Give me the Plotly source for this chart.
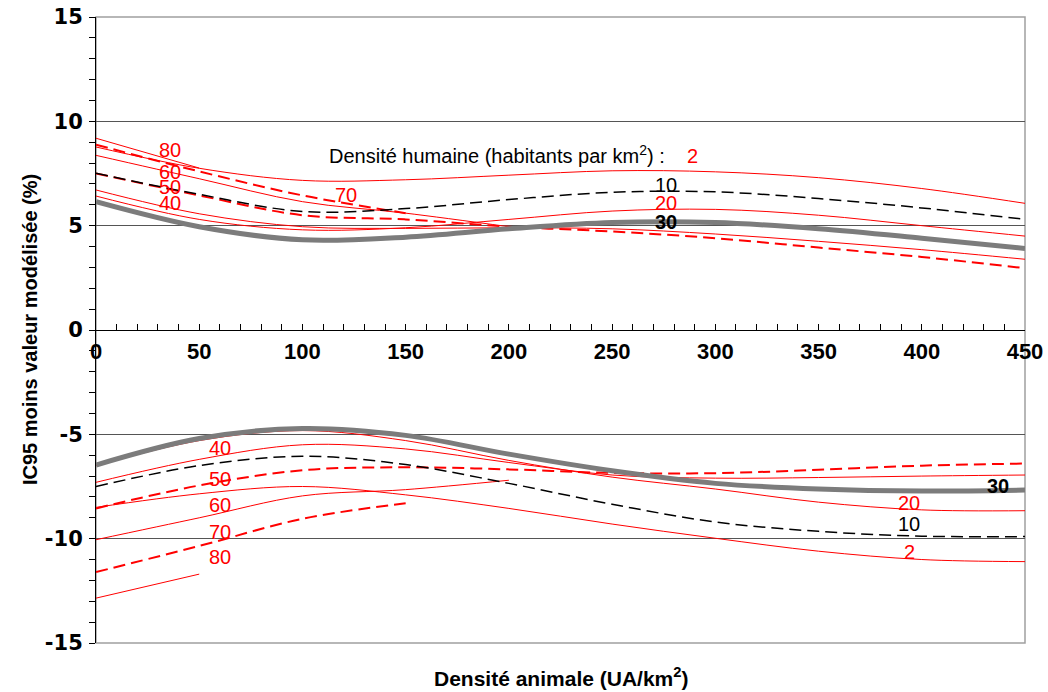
import plotly.graph_objects as go

# ---------------- data ----------------
x_full = [0, 50, 100, 150, 200, 250, 300, 350, 400, 450]
x_to200 = [0, 50, 100, 150, 200]
x_to150 = [0, 50, 100, 150]
x_to50 = [0, 50]

# upper band (IC95 sup - valeur)
top_2 = [8.77, 7.75, 7.17, 7.2, 7.42, 7.63, 7.58, 7.3, 6.78, 6.07]
top_10 = [7.51, 6.5, 5.68, 5.82, 6.25, 6.6, 6.62, 6.3, 5.85, 5.3]
top_20 = [6.42, 5.3, 4.8, 4.9, 5.3, 5.7, 5.78, 5.5, 5.0, 4.5]
top_30 = [6.15, 4.95, 4.32, 4.45, 4.85, 5.15, 5.15, 4.85, 4.4, 3.91]
top_40 = [6.71, 5.57, 4.95, 4.87, 4.9, 4.85, 4.6, 4.25, 3.85, 3.39]
top_50 = [7.5, 6.45, 5.5, 5.3, 4.95, 4.72, 4.4, 3.95, 3.5, 2.96]
top_60 = [8.37, 7.25, 6.15, 5.6, 4.95]
top_70 = [8.88, 7.6, 6.45, 5.6]
top_80 = [9.19, 7.76]

# lower band (IC95 inf - valeur)
bot_2 = [-8.5, -7.85, -7.5, -7.9, -8.55, -9.3, -9.98, -10.6, -11.0, -11.1]
bot_10 = [-7.5, -6.5, -6.05, -6.45, -7.35, -8.35, -9.2, -9.65, -9.88, -9.9]
bot_20 = [-6.5, -5.3, -4.82, -5.3, -6.25, -7.05, -7.62, -8.25, -8.62, -8.66]
bot_30 = [-6.47, -5.2, -4.72, -5.05, -5.95, -6.75, -7.35, -7.62, -7.72, -7.67]
bot_40 = [-7.3, -6.2, -5.5, -5.7, -6.35, -6.95, -7.1, -7.07, -7.0, -6.95]
bot_50 = [-8.55, -7.45, -6.72, -6.58, -6.68, -6.85, -6.86, -6.7, -6.5, -6.4]
bot_60 = [-10.05, -9.0, -7.95, -7.65, -7.2]
bot_70 = [-11.6, -10.35, -9.05, -8.3]
bot_80 = [-12.85, -11.7]

x_ticks = [0, 50, 100, 150, 200, 250, 300, 350, 400, 450]
y_ticks = [-15, -10, -5, 0, 5, 10, 15]

# ---------------- styles ----------------
RED = "#ff0000"
solid_red = dict(color=RED, width=1)
dash_red = dict(color=RED, width=2, dash="12px,6px")
dash_black = dict(color="black", width=1.5, dash="12px,6px")
thick_gray = dict(color="#7c7c7c", width=5)

series = [
    (x_full, top_2, solid_red), (x_full, top_20, solid_red), (x_full, top_40, solid_red),
    (x_to200, top_60, solid_red), (x_to50, top_80, solid_red),
    (x_full, top_50, dash_red), (x_to150, top_70, dash_red),
    (x_full, top_10, dash_black),
    (x_full, bot_2, solid_red), (x_full, bot_20, solid_red), (x_full, bot_40, solid_red),
    (x_to200, bot_60, solid_red), (x_to50, bot_80, solid_red),
    (x_full, bot_50, dash_red), (x_to150, bot_70, dash_red),
    (x_full, bot_10, dash_black),
    (x_full, top_30, thick_gray), (x_full, bot_30, thick_gray),
]

fig = go.Figure()
for xs, ys, st in series:
    fig.add_trace(go.Scatter(x=xs, y=ys, mode="lines", line=dict(shape="spline", smoothing=1, **st),
                             showlegend=False, hoverinfo="skip"))

# curve labels: (text, x, y, color, bold)
labels = [
    ("80", 36, 8.62, RED, False), ("60", 36, 7.57, RED, False), ("50", 36, 6.85, RED, False),
    ("40", 36, 6.09, RED, False), ("70", 121, 6.47, RED, False),
    ("10", 276, 6.95, "black", False), ("20", 276, 6.09, RED, False), ("30", 276, 5.17, "black", True),
    ("40", 60, -5.65, RED, False), ("50", 60, -7.14, RED, False), ("60", 60, -8.39, RED, False),
    ("70", 60, -9.68, RED, False), ("80", 60, -10.88, RED, False),
    ("30", 437, -7.47, "black", True), ("20", 394, -8.29, RED, False),
    ("10", 394, -9.3, "black", False), ("2", 394, -10.64, RED, False),
]
annots = []
for t, lx, ly, c, b in labels:
    annots.append(dict(x=lx, y=ly, xref="x", yref="y", showarrow=False,
                       xanchor="center", yanchor="middle",
                       text=f"<b>{t}</b>" if b else t,
                       font=dict(family="Liberation Sans, Arial", size=20, color=c)))
annots.append(dict(x=202, y=8.39, xref="x", yref="y", showarrow=False, xanchor="center", yanchor="middle",
                   text="Densité humaine (habitants par km<sup>2</sup>) :&nbsp;&nbsp;&nbsp;&nbsp;<span style='color:#ff0000'>2</span>",
                   font=dict(family="Liberation Sans, Arial", size=20, color="black")))
annots.append(dict(x=-0.071, y=0.5, xref="paper", yref="paper", showarrow=False, textangle=-90,
                   xanchor="center", yanchor="middle",
                   text="<b>IC95 moins valeur modélisée (%)</b>",
                   font=dict(family="Liberation Sans, Arial", size=20, color="black")))
annots.append(dict(x=0.5, y=-0.055, xref="paper", yref="paper", showarrow=False,
                   xanchor="center", yanchor="middle",
                   text="<b>Densité animale (UA/km<sup>2</sup>)</b>",
                   font=dict(family="Liberation Sans, Arial", size=21, color="black")))

fig.update_layout(
    width=1048, height=692,
    margin=dict(l=96, r=23, t=17, b=49),
    paper_bgcolor="white", plot_bgcolor="white",
    annotations=annots,
    shapes=[dict(type="rect", xref="paper", yref="paper", x0=0, x1=1, y0=0, y1=1,
                 line=dict(color="#a0a0a0", width=1.5), layer="below")],
    xaxis=dict(range=[0, 450], anchor="free", position=0.5, showline=True, linecolor="black", linewidth=1,
               automargin=False,
               tickmode="array", tickvals=x_ticks, ticktext=[str(v) for v in x_ticks],
               ticks="inside", ticklen=6, tickcolor="black",
               minor=dict(dtick=10, tick0=0, ticks="inside", ticklen=6, tickcolor="black"),
               showgrid=False, zeroline=False, ticklabelstandoff=2,
               tickfont=dict(family="Liberation Sans, Arial", size=22, color="black", weight="bold")),
    yaxis=dict(range=[-15, 15], tickmode="array", tickvals=y_ticks, ticktext=[str(v) for v in y_ticks],
               automargin=False,
               ticks="outside", ticklen=6, tickcolor="black",
               minor=dict(dtick=1, tick0=0, ticks="outside", ticklen=6, tickcolor="black"),
               showline=True, linecolor="black", linewidth=1,
               showgrid=True, gridcolor="#555555", gridwidth=1, zeroline=False, ticklabelstandoff=2,
               tickfont=dict(family="DejaVu Sans", size=21, color="black", weight="bold")),
)

fig.write_html("out.html")
